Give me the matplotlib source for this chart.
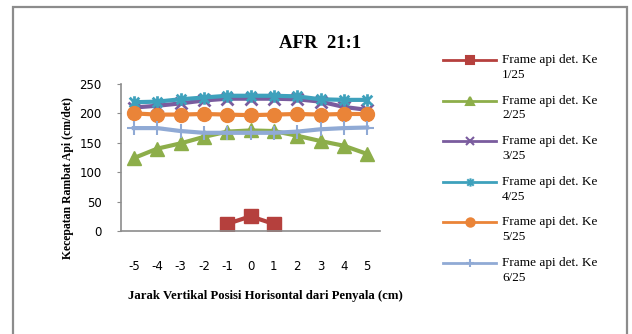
import matplotlib
matplotlib.use("Agg")
import matplotlib.pyplot as plt
from matplotlib.lines import Line2D
from matplotlib.path import Path
from matplotlib.patches import Rectangle

positions = ["-5", "-4", "-3", "-2", "-1", "0", "1", "2", "3", "4", "5"]
series_labels = [f"Frame api det. Ke\n{i}/25" for i in range(1, 7)]

frame1_idx = [4, 5, 6]
frame1 = [12, 25, 12]
frame2 = [124, 140, 149, 160, 169, 171, 170, 162, 153, 145, 131]
frame3 = [210, 213, 217, 222, 225, 225, 225, 224, 220, 211, 206]
frame4 = [219, 220, 224, 227, 230, 230, 230, 229, 224, 223, 223]
frame5 = [200, 198, 198, 199, 198, 197, 198, 199, 198, 199, 199]
frame6 = [175, 175, 170, 167, 167, 167, 167, 169, 173, 175, 176]

colors = ["#B5403D", "#8DAE4A", "#7A5C9E", "#3EA1BC", "#EA8438", "#90AAD5"]

# Excel style "star": an x with a vertical bar
star = Path(
    [(-1, -1), (1, 1), (-1, 1), (1, -1), (0, -1.3), (0, 1.3)],
    [Path.MOVETO, Path.LINETO, Path.MOVETO, Path.LINETO, Path.MOVETO, Path.LINETO],
)
markers = ["s", "^", "x", star, "o", "+"]

serif = "Liberation Serif"
W, H = 632, 334
fig = plt.figure(figsize=(6.32, 3.34), dpi=100)
fig.patches.append(Rectangle((13 / W, -0.05), 614 / W, 1 - 7 / H + 0.05,
                             transform=fig.transFigure, fill=False,
                             edgecolor="#8c8c8c", linewidth=1.6))

ax = fig.add_axes([121 / W, 1 - 231 / H, 259 / W, 147 / H])
x = list(range(len(positions)))
lw = 3.0
ax.plot(frame1_idx, frame1, color=colors[0], lw=lw, marker="s", ms=10)
ax.plot(x, frame2, color=colors[1], lw=lw, marker="^", ms=10)
ax.plot(x, frame3, color=colors[2], lw=lw, marker="x", ms=8, mew=2)
ax.plot(x, frame4, color=colors[3], lw=lw, marker=star, ms=9, mew=2)
ax.plot(x, frame5, color=colors[4], lw=lw, marker="o", ms=10)
ax.plot(x, frame6, color=colors[5], lw=lw, marker="+", ms=10, mew=1.5)

ax.set_xlim(-0.55, 10.55)
ax.set_ylim(0, 250)
ax.set_yticks(range(0, 251, 50))
ax.set_xticks(x)
ax.set_xticklabels(positions)
for s in ["top", "right"]:
    ax.spines[s].set_visible(False)
for s in ["left", "bottom"]:
    ax.spines[s].set_color("#8c8c8c")
    ax.spines[s].set_linewidth(1.2)
ax.tick_params(axis="x", length=0, pad=21, labelsize=8.5)
ax.tick_params(axis="y", length=3, color="#8c8c8c", pad=11, labelsize=8.5)
ax.set_facecolor("none")

fig.text(320 / W, 1 - 44 / H, "AFR  21:1", family=serif, weight="bold",
         fontsize=13.5, ha="center", va="center")
fig.text(68 / W, 1 - 178 / H, "Kecepatan Rambat Api (cm/det)", family=serif,
         weight="bold", fontsize=8.5, rotation=90, ha="center", va="center")
fig.text(265 / W, 1 - 296 / H, "Jarak Vertikal Posisi Horisontal dari Penyala (cm)",
         family=serif, weight="bold", fontsize=9.2, ha="center", va="center")

# legend drawn by hand: handle sits on the first text line, like Excel
for i, (label, color, mk) in enumerate(zip(series_labels, colors, markers)):
    y = 1 - (60 + 40.6 * i) / H
    fig.add_artist(Line2D([443 / W, 496 / W], [y, y], transform=fig.transFigure,
                          color=color, lw=2))
    fig.add_artist(Line2D([470 / W], [y], transform=fig.transFigure, color=color,
                          marker=mk, ms=6, mew=1.5, lw=0))
    fig.text(502 / W, y + 6 / H, label, family=serif, fontsize=9.5,
             va="top", ha="left", linespacing=1.3)

fig.savefig("out.png", dpi=100)
